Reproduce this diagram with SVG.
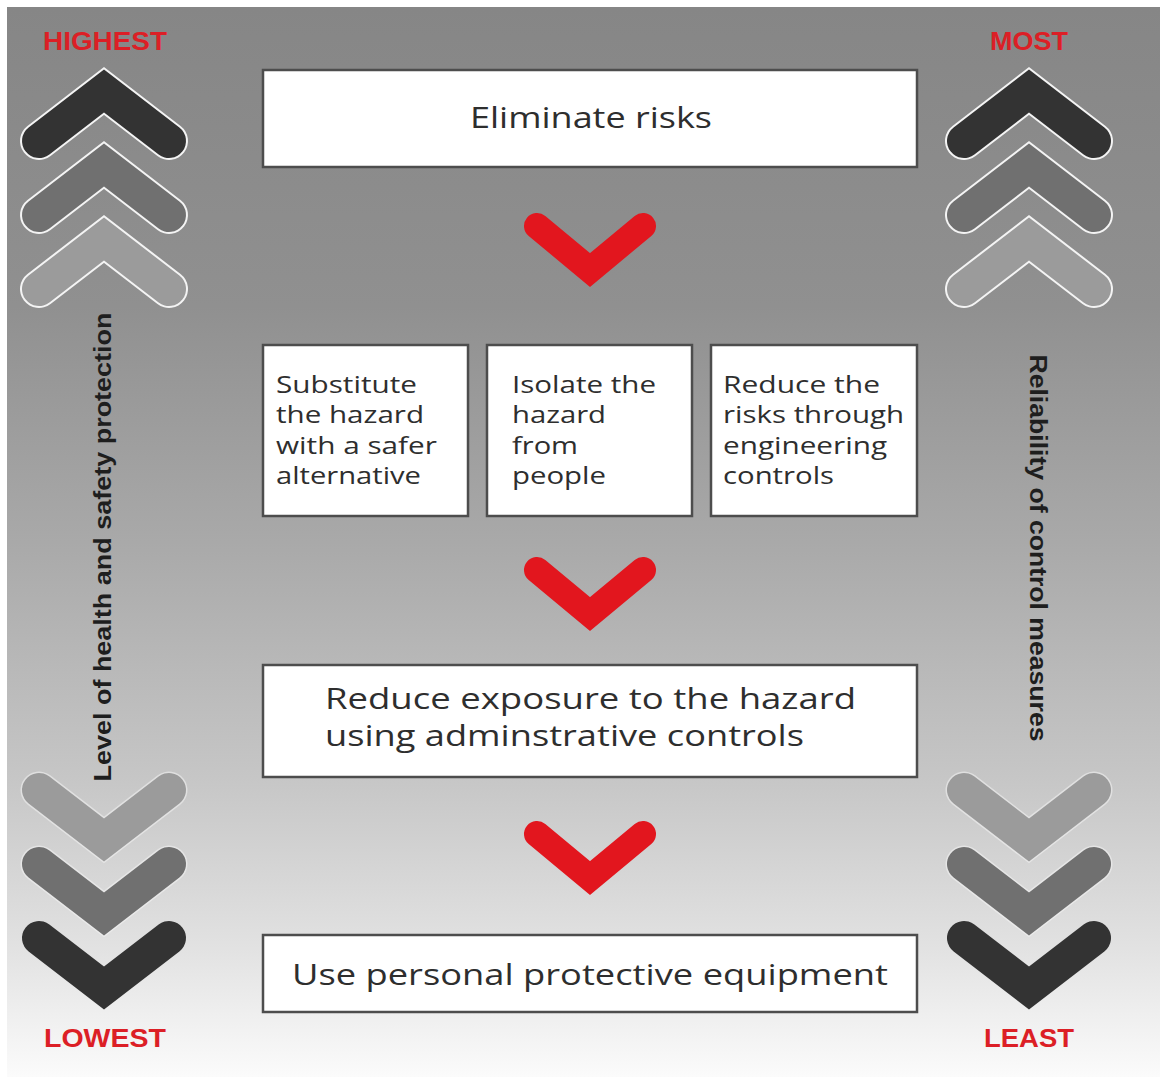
<svg xmlns="http://www.w3.org/2000/svg" width="1166" height="1077" viewBox="0 0 1166 1077">
  <defs>
    <linearGradient id="bg" x1="0" y1="0" x2="0" y2="1">
      <stop offset="0" stop-color="#868686"/>
      <stop offset="0.28" stop-color="#909090"/>
      <stop offset="0.5" stop-color="#a9a9a9"/>
      <stop offset="0.72" stop-color="#c6c6c6"/>
      <stop offset="0.88" stop-color="#e2e2e2"/>
      <stop offset="1" stop-color="#fbfbfb"/>
    </linearGradient>
    <polyline id="up" points="-65,50 0,0 65,50"/>
    <polyline id="down" points="-65,-50 0,0 65,-50"/>
    <polyline id="red" points="-53,-44 0,0 53,-44"/>
  </defs>
  <style>
    .box { fill: #ffffff; stroke: #4d4d4d; stroke-width: 2.5; }
    .txt { font-family: "Open Sans", "Liberation Sans", sans-serif; fill: #2e2e2e; }
    .big { font-size: 29px; }
    .small { font-size: 24px; }
    .lbl { font-family: "Liberation Sans", Arial, sans-serif; font-weight: bold; font-size: 25px; fill: #dc1f26; text-anchor: middle; }
    .side { font-family: "Liberation Sans", Arial, sans-serif; font-weight: bold; font-size: 24px; fill: #1e1e1e; text-anchor: middle; }
    .out { fill: none; stroke: #f4f4f4; stroke-width: 38; stroke-linecap: round; stroke-linejoin: miter; }
    .outf { fill: none; stroke: #f4f4f4; stroke-opacity: 0.55; stroke-width: 37; stroke-linecap: round; stroke-linejoin: miter; }
    .chev { fill: none; stroke-width: 34; stroke-linecap: round; stroke-linejoin: miter; }
    .c1 { stroke: #333333; }
    .c2 { stroke: #707070; }
    .c3 { stroke: #9b9b9b; }
    .redc { fill: none; stroke: #e2161e; stroke-width: 26; stroke-linecap: round; stroke-linejoin: miter; }
  </style>

  <rect x="0" y="0" width="1166" height="1077" fill="#ffffff"/>
  <rect x="7" y="7" width="1153" height="1070" fill="url(#bg)"/>

  <!-- side scales -->
  <g id="scale-left">
    <text class="lbl" x="105" y="50" textLength="124" lengthAdjust="spacingAndGlyphs">HIGHEST</text>
    <g transform="translate(104,91)"><use href="#up" class="out"/><use href="#up" class="chev c1"/></g>
    <g transform="translate(104,165)"><use href="#up" class="out"/><use href="#up" class="chev c2"/></g>
    <g transform="translate(104,239)"><use href="#up" class="out"/><use href="#up" class="chev c3"/></g>
    <text class="side" transform="translate(111,547) rotate(-90)" textLength="469" lengthAdjust="spacingAndGlyphs">Level of health and safety protection</text>
    <g transform="translate(104,840)"><use href="#down" class="outf"/><use href="#down" class="chev c3"/></g>
    <g transform="translate(104,914)"><use href="#down" class="outf"/><use href="#down" class="chev c2"/></g>
    <g transform="translate(104,988)"><use href="#down" class="chev c1"/></g>
    <text class="lbl" x="105" y="1047" textLength="122" lengthAdjust="spacingAndGlyphs">LOWEST</text>
  </g>

  <g id="scale-right">
    <text class="lbl" x="1029" y="50" textLength="78" lengthAdjust="spacingAndGlyphs">MOST</text>
    <g transform="translate(1029,91)"><use href="#up" class="out"/><use href="#up" class="chev c1"/></g>
    <g transform="translate(1029,165)"><use href="#up" class="out"/><use href="#up" class="chev c2"/></g>
    <g transform="translate(1029,239)"><use href="#up" class="out"/><use href="#up" class="chev c3"/></g>
    <text class="side" transform="translate(1030,548) rotate(90)" textLength="387" lengthAdjust="spacingAndGlyphs">Reliability of control measures</text>
    <g transform="translate(1029,840)"><use href="#down" class="outf"/><use href="#down" class="chev c3"/></g>
    <g transform="translate(1029,914)"><use href="#down" class="outf"/><use href="#down" class="chev c2"/></g>
    <g transform="translate(1029,988)"><use href="#down" class="chev c1"/></g>
    <text class="lbl" x="1029" y="1047" textLength="90" lengthAdjust="spacingAndGlyphs">LEAST</text>
  </g>

  <!-- connectors -->
  <g id="connectors">
    <use href="#red" class="redc" transform="translate(590,270)"/>
    <use href="#red" class="redc" transform="translate(590,614)"/>
    <use href="#red" class="redc" transform="translate(590,878)"/>
  </g>

  <!-- nodes -->
  <g id="eliminate">
    <rect class="box" x="263" y="70" width="654" height="97"/>
    <text class="txt big" x="591" y="128" text-anchor="middle" textLength="242" lengthAdjust="spacingAndGlyphs">Eliminate risks</text>
  </g>

  <g id="substitute">
    <rect class="box" x="263" y="345" width="205" height="171"/>
    <text class="txt small" x="276" y="393" textLength="141" lengthAdjust="spacingAndGlyphs">Substitute</text>
    <text class="txt small" x="276" y="423" textLength="148" lengthAdjust="spacingAndGlyphs">the hazard</text>
    <text class="txt small" x="276" y="454" textLength="161" lengthAdjust="spacingAndGlyphs">with a safer</text>
    <text class="txt small" x="276" y="484" textLength="145" lengthAdjust="spacingAndGlyphs">alternative</text>
  </g>

  <g id="isolate">
    <rect class="box" x="487" y="345" width="205" height="171"/>
    <text class="txt small" x="512" y="393" textLength="144" lengthAdjust="spacingAndGlyphs">Isolate the</text>
    <text class="txt small" x="512" y="423" textLength="94" lengthAdjust="spacingAndGlyphs">hazard</text>
    <text class="txt small" x="512" y="454" textLength="66" lengthAdjust="spacingAndGlyphs">from</text>
    <text class="txt small" x="512" y="484" textLength="94" lengthAdjust="spacingAndGlyphs">people</text>
  </g>

  <g id="engineering">
    <rect class="box" x="711" y="345" width="206" height="171"/>
    <text class="txt small" x="723" y="393" textLength="157" lengthAdjust="spacingAndGlyphs">Reduce the</text>
    <text class="txt small" x="723" y="423" textLength="181" lengthAdjust="spacingAndGlyphs">risks through</text>
    <text class="txt small" x="723" y="454" textLength="164" lengthAdjust="spacingAndGlyphs">engineering</text>
    <text class="txt small" x="723" y="484" textLength="111" lengthAdjust="spacingAndGlyphs">controls</text>
  </g>

  <g id="administrative">
    <rect class="box" x="263" y="665" width="654" height="112"/>
    <text class="txt big" x="325" y="709" textLength="531" lengthAdjust="spacingAndGlyphs">Reduce exposure to the hazard</text>
    <text class="txt big" x="325" y="746" textLength="479" lengthAdjust="spacingAndGlyphs">using adminstrative controls</text>
  </g>

  <g id="ppe">
    <rect class="box" x="263" y="935" width="654" height="77"/>
    <text class="txt big" x="292" y="985" textLength="596" lengthAdjust="spacingAndGlyphs">Use personal protective equipment</text>
  </g>
</svg>
